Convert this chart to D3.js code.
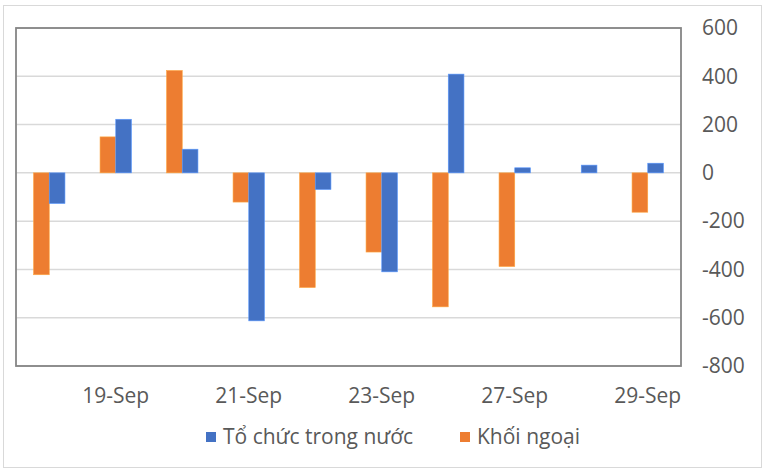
<!DOCTYPE html>
<html>
<head>
<meta charset="utf-8">
<script src="https://cdn.jsdelivr.net/npm/d3@7"></script>
<style>
  body { margin: 0; background: #fff; }
  svg text { font-family: "Open Sans", sans-serif; fill: #595959; }
</style>
</head>
<body>
<svg id="chart" width="765" height="472"></svg>
<script>
// data
var dates = ["18-Sep", "19-Sep", "20-Sep", "21-Sep", "22-Sep", "23-Sep", "26-Sep", "27-Sep", "28-Sep", "29-Sep"];
var shownLabels = ["19-Sep", "21-Sep", "23-Sep", "27-Sep", "29-Sep"];
var toChuc = [-127, 222, 98, -613, -69, -410, 409, 21, 32, 40];
var khoiNgoai = [-422, 149, 424, -121, -475, -328, -555, -388, 0, -163];
var yTicks = [600, 400, 200, 0, -200, -400, -600, -800];
var seriesNames = ["Tổ chức trong nước", "Khối ngoại"];
var colors = ["#4472c4", "#ed7d31"];

var svg = d3.select("#chart");
var plot = { left: 16, top: 28, right: 681, bottom: 366 };

// outer chart frame
svg.append("rect")
    .attr("x", 3.5).attr("y", 5.5)
    .attr("width", 758).attr("height", 462)
    .attr("fill", "#fff")
    .attr("stroke", "#d9d9d9").attr("stroke-width", 1);

var x = d3.scaleBand().domain(dates).range([plot.left, plot.right]).paddingInner(0).paddingOuter(0);
var barW = 15.7;
var y = d3.scaleLinear().domain([-800, 600]).range([plot.bottom, plot.top]);

// gridlines
svg.append("g").selectAll("line")
    .data(yTicks)
    .join("line")
    .attr("x1", plot.left).attr("x2", plot.right)
    .attr("y1", d => y(d)).attr("y2", d => y(d))
    .attr("stroke", "#d9d9d9").attr("stroke-width", 1.5);

// bars
function drawSeries(vals, idx){
    svg.append("g").selectAll("rect")
        .data(vals)
        .join("rect")
        .attr("x", (d, i) => x(dates[i]) + x.bandwidth()/2 + (idx == 1 ? -barW : 0))
        .attr("y", d => y(Math.max(0, d)))
        .attr("width", barW)
        .attr("height", d => Math.abs(y(d) - y(0)))
        .attr("fill", colors[idx])
        .attr("stroke", d3.color(colors[idx]).brighter(0.8))
        .attr("stroke-width", 0.6);
}
drawSeries(khoiNgoai, 1);
drawSeries(toChuc, 0);

// plot frame
svg.append("rect")
    .attr("x", plot.left).attr("y", plot.top)
    .attr("width", plot.right - plot.left).attr("height", plot.bottom - plot.top)
    .attr("fill", "none")
    .attr("stroke", "#868686").attr("stroke-width", 1.8);

// right axis labels
svg.append("g").selectAll("text")
    .data(yTicks)
    .join("text")
    .attr("x", 702)
    .attr("y", d => y(d))
    .attr("dy", "0.35em")
    .attr("font-size", "21px")
    .text(d => d);

// x labels
svg.append("g").selectAll("text")
    .data(shownLabels)
    .join("text")
    .attr("x", d => x(d) + x.bandwidth()/2)
    .attr("y", 396)
    .attr("dy", "0.35em")
    .attr("text-anchor", "middle")
    .attr("font-size", "21px")
    .text(d => d);

// legend
var legendX = [206, 460];
var leg = svg.append("g").selectAll("g")
    .data(seriesNames)
    .join("g")
    .attr("transform", (d, i) => "translate(" + legendX[i] + ",437)");
leg.append("rect")
    .attr("x", 0).attr("y", -5)
    .attr("width", 10).attr("height", 10)
    .attr("fill", (d, i) => colors[i]);
leg.append("text")
    .attr("x", 17)
    .attr("dy", "0.35em")
    .attr("font-size", "21px")
    .text(d => d);
</script>
</body>
</html>
